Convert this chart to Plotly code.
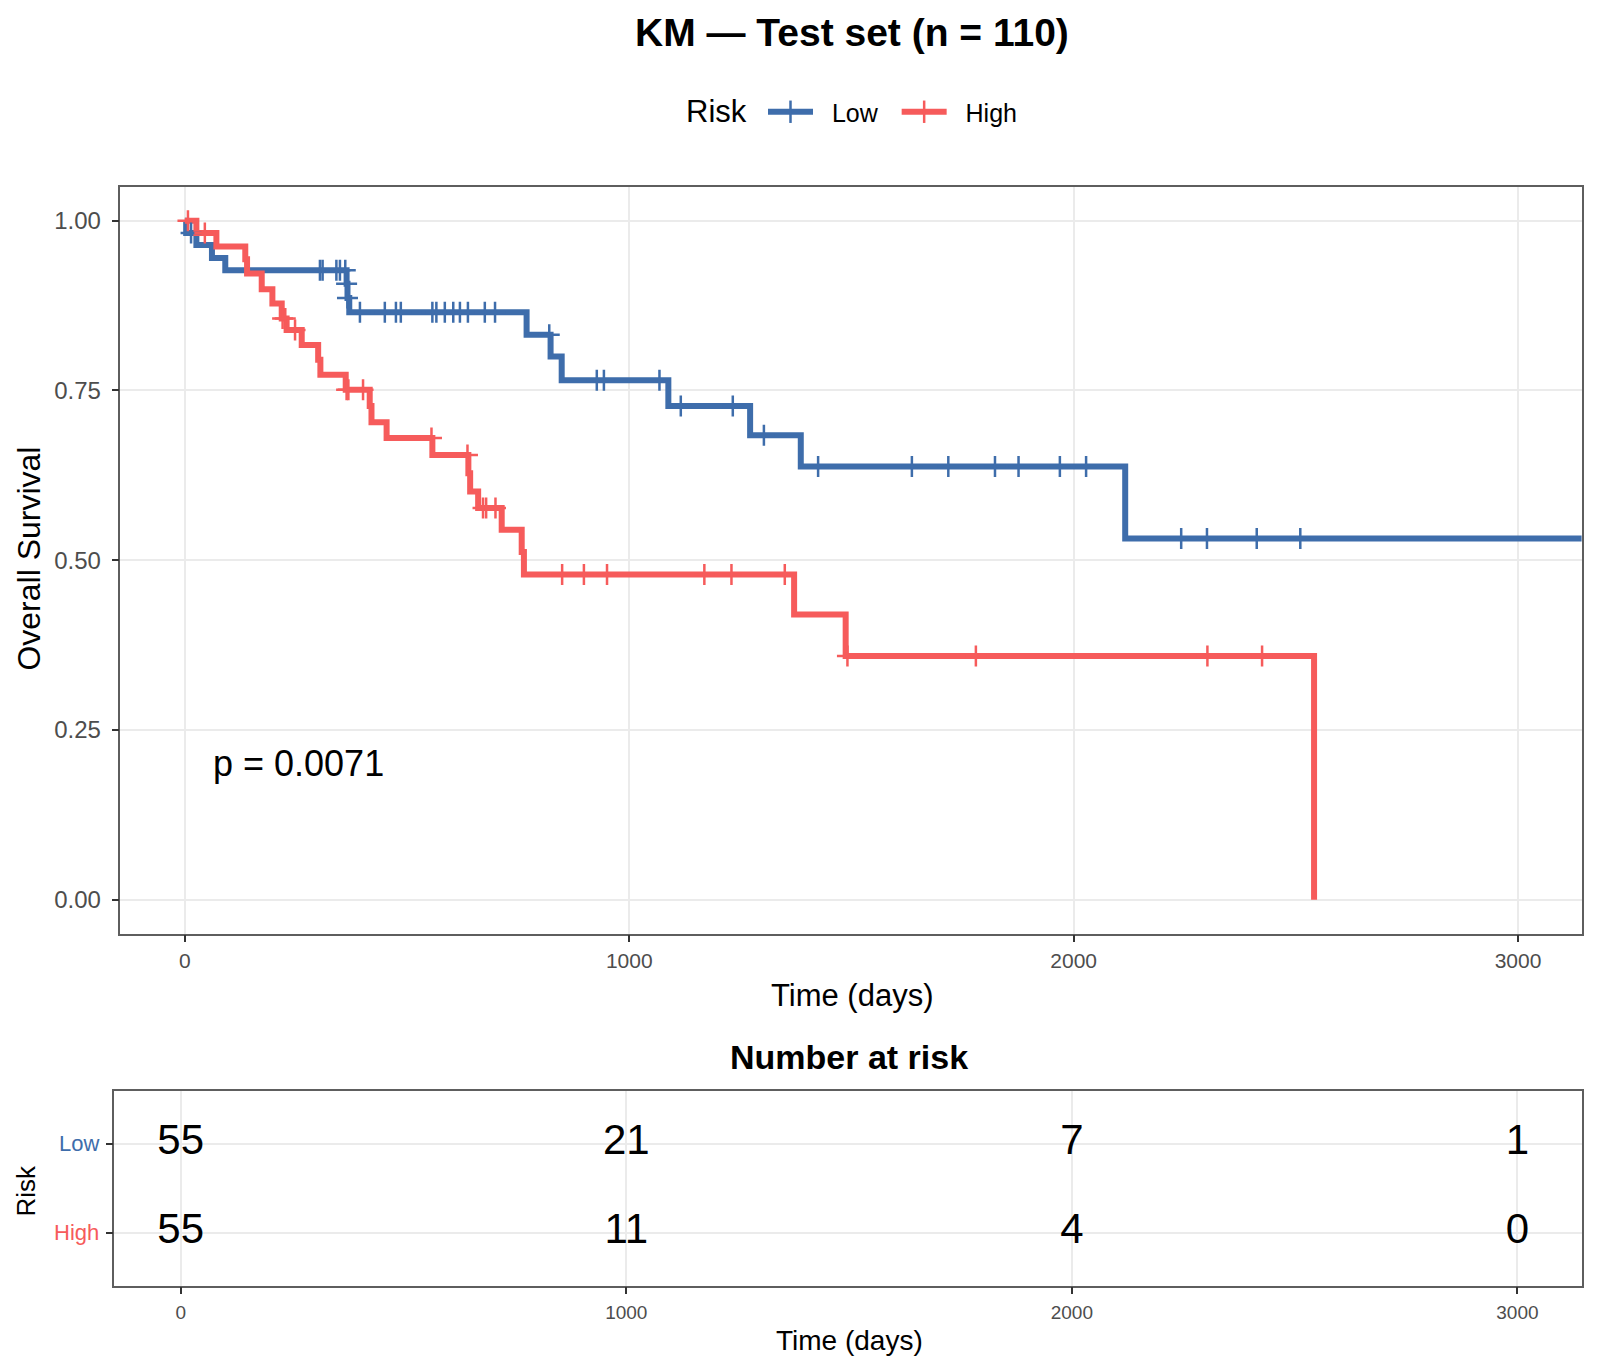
import plotly.graph_objects as go

# ---------------- data ----------------
groups = ["Low", "High"]

low_step_time = [0, 3, 26, 61, 91, 364, 366, 370, 769, 823, 848, 1088, 1272, 1386, 2116, 3200]
low_step_surv = [1.0, 0.982, 0.964, 0.945, 0.927, 0.907, 0.886, 0.865, 0.832, 0.800, 0.765,
                 0.727, 0.684, 0.638, 0.532, 0.532]

low_cens_time = [14, 304, 310, 341, 349, 361, 364, 366, 394, 450, 475, 486, 557, 566, 585, 604,
                 619, 637, 675, 698, 820, 927, 943, 1068, 1116, 1233, 1303, 1425, 1636, 1718,
                 1823, 1876, 1969, 2028, 2242, 2300, 2412, 2510]
low_cens_surv = [0.982, 0.927, 0.927, 0.927, 0.927, 0.927, 0.907, 0.886, 0.865, 0.865, 0.865,
                 0.865, 0.865, 0.865, 0.865, 0.865, 0.865, 0.865, 0.865, 0.865, 0.832, 0.765,
                 0.765, 0.765, 0.727, 0.727, 0.684, 0.638, 0.638, 0.638, 0.638, 0.638, 0.638,
                 0.638, 0.532, 0.532, 0.532, 0.532]

high_step_time = [0, 26, 71, 136, 140, 173, 197, 218, 229, 263, 300, 305, 362, 416, 420, 454,
                  557, 638, 642, 660, 713, 758, 763, 1371, 1487, 2541]
high_step_surv = [1.0, 0.982, 0.962, 0.943, 0.922, 0.899, 0.878, 0.856, 0.839, 0.817, 0.795,
                  0.773, 0.751, 0.727, 0.703, 0.680, 0.655, 0.628, 0.601, 0.577, 0.545, 0.512,
                  0.479, 0.420, 0.359, 0.0]

high_cens_time = [7, 45, 220, 226, 248, 364, 368, 401, 555, 636, 671, 678, 699, 849, 898, 950,
                  1169, 1230, 1350, 1491, 1780, 2301, 2424]
high_cens_surv = [1.0, 0.982, 0.856, 0.856, 0.839, 0.751, 0.751, 0.751, 0.680, 0.655, 0.577,
                  0.577, 0.577, 0.479, 0.479, 0.479, 0.479, 0.479, 0.479, 0.359, 0.359, 0.359,
                  0.359]

risk_times = [0, 1000, 2000, 3000]
risk_low = [55, 21, 7, 1]
risk_high = [55, 11, 4, 0]

x_ticks = [0, 1000, 2000, 3000]
y_ticks = [0, 0.25, 0.5, 0.75, 1.0]
y_ticklabels = ["0.00", "0.25", "0.50", "0.75", "1.00"]

p_text = "p = 0.0071"
title_text = "KM — Test set (n = 110)"

# ---------------- styling ----------------
LOW_C = "#3E6DAB"
HIGH_C = "#F65B5B"
FONT = "Liberation Sans, Arial, sans-serif"
W, H = 1600, 1371
NB = "\u00a0"


def px_x(v):
    return v / W


def px_y(v):
    return 1 - v / H


fig = go.Figure()

for t, s, c in [(low_step_time, low_step_surv, LOW_C), (high_step_time, high_step_surv, HIGH_C)]:
    fig.add_trace(go.Scatter(x=t, y=s, mode="lines", line=dict(color=c, width=6, shape="hv"),
                             showlegend=False, hoverinfo="skip", xaxis="x", yaxis="y"))

for t, s, c in [(low_cens_time, low_cens_surv, LOW_C), (high_cens_time, high_cens_surv, HIGH_C)]:
    fig.add_trace(go.Scatter(x=t, y=s, mode="markers",
                             marker=dict(symbol="cross-thin", size=15, color=c,
                                         line=dict(color=c, width=2.5)),
                             showlegend=False, hoverinfo="skip", xaxis="x", yaxis="y"))

# legend entries
for name, c in zip(groups, [LOW_C, HIGH_C]):
    fig.add_trace(go.Scatter(x=[None], y=[None], mode="lines+markers",
                             name=NB * 2 + name + NB * 2,
                             line=dict(color=c, width=6),
                             marker=dict(symbol="line-ns", size=18, color=c,
                                         line=dict(color=c, width=2.5))))

# risk table
for name, vals in zip(groups, [risk_low, risk_high]):
    fig.add_trace(go.Scatter(x=risk_times, y=[name] * len(risk_times), mode="text",
                             text=[str(v) for v in vals],
                             textfont=dict(size=42, color="black", family=FONT),
                             showlegend=False, hoverinfo="skip", xaxis="x2", yaxis="y2"))

axis_common = dict(showgrid=True, gridcolor="#EBEBEB", gridwidth=1.5, zeroline=False,
                   showline=True, mirror=True, linecolor="#5E5E5E", linewidth=1.5,
                   ticks="outside", ticklen=7, tickwidth=2, tickcolor="#333333",
                   automargin=False)

fig.update_layout(
    width=W, height=H, autosize=False,
    margin=dict(l=0, r=0, t=0, b=0),
    paper_bgcolor="white", plot_bgcolor="white",
    font=dict(family=FONT, color="black"),
    xaxis=dict(domain=[px_x(120.4), px_x(1581.6)], range=[-145, 3143], anchor="y",
               tickvals=x_ticks, tickfont=dict(size=21, color="#4D4D4D"),
               ticklabelstandoff=0, **axis_common),
    yaxis=dict(domain=[px_y(933.7), px_y(186.7)], range=[-0.05, 1.05], anchor="x",
               tickvals=y_ticks, ticktext=y_ticklabels,
               tickfont=dict(size=24, color="#4D4D4D"), ticklabelstandoff=6, **axis_common),
    xaxis2=dict(domain=[px_x(114.3), px_x(1581.6)], range=[-149, 3144], anchor="y2",
                tickvals=x_ticks, tickfont=dict(size=19, color="#4D4D4D"),
                ticklabelstandoff=2, **axis_common),
    yaxis2=dict(domain=[px_y(1285.7), px_y(1090.8)], type="category",
                categoryorder="array", categoryarray=["High", "Low"], range=[-0.6, 1.6],
                anchor="x2", showticklabels=False, **axis_common),
    legend=dict(orientation="h", x=px_x(763), xanchor="left", y=px_y(112), yanchor="middle",
                font=dict(size=25, color="black"), bgcolor="rgba(0,0,0,0)",
                itemwidth=45),
)

ann = []
ann.append(dict(text="<b>" + title_text + "</b>", x=px_x(852), y=px_y(33), xref="paper",
                yref="paper", xanchor="center", yanchor="middle", showarrow=False,
                font=dict(size=39, color="black")))
ann.append(dict(text="Risk", x=px_x(749), y=px_y(112), xref="paper", yref="paper",
                xanchor="right", yanchor="middle", showarrow=False,
                font=dict(size=31, color="black")))
ann.append(dict(text="Time (days)", x=px_x(852), y=px_y(995), xref="paper", yref="paper",
                xanchor="center", yanchor="middle", showarrow=False,
                font=dict(size=31, color="black")))
ann.append(dict(text="Overall Survival", x=px_x(28.6), y=px_y(559), xref="paper", yref="paper",
                xanchor="center", yanchor="middle", showarrow=False, textangle=-90,
                font=dict(size=32, color="black")))
ann.append(dict(text=p_text, x=59, y=0.2, xref="x", yref="y", xanchor="left", yanchor="middle",
                showarrow=False, font=dict(size=36, color="black")))
ann.append(dict(text="<b>Number at risk</b>", x=px_x(849), y=px_y(1057), xref="paper",
                yref="paper", xanchor="center", yanchor="middle", showarrow=False,
                font=dict(size=34, color="black")))
ann.append(dict(text="Time (days)", x=px_x(849), y=px_y(1340), xref="paper", yref="paper",
                xanchor="center", yanchor="middle", showarrow=False,
                font=dict(size=28, color="black")))
ann.append(dict(text="Risk", x=px_x(25.5), y=px_y(1191), xref="paper", yref="paper",
                xanchor="center", yanchor="middle", showarrow=False, textangle=-90,
                font=dict(size=26, color="black")))
for idx, (name, c) in enumerate(zip(groups, [LOW_C, HIGH_C])):
    ann.append(dict(text=name, x=px_x(101), xanchor="right", xref="paper",
                    y=1 - idx, yref="y2", yanchor="middle", showarrow=False,
                    font=dict(size=22, color=c)))
fig.update_layout(annotations=ann)

fig.write_html("out.html")
